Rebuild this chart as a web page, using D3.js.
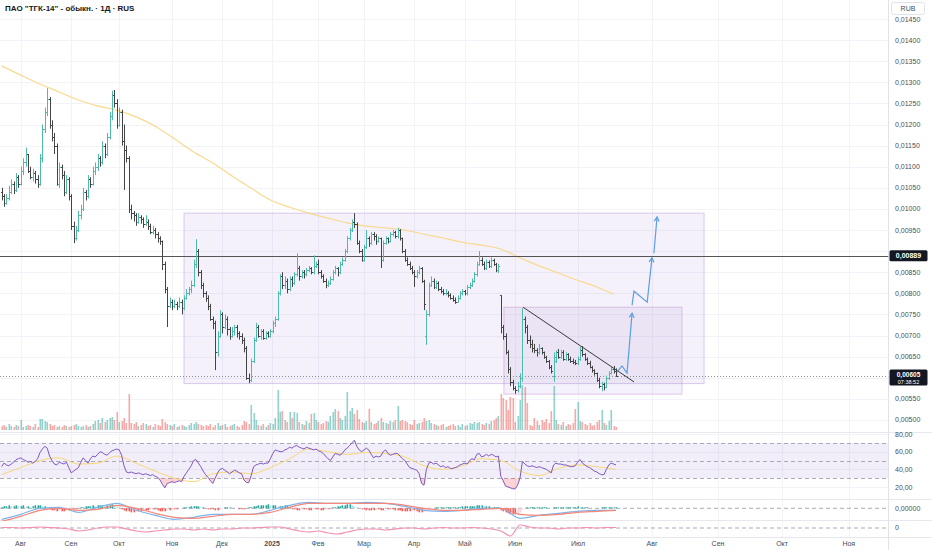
<!DOCTYPE html>
<html><head><meta charset="utf-8">
<script src="https://cdn.jsdelivr.net/npm/d3@7"></script>
<style>
body{margin:0;background:#fff}
svg{display:block}
text{font-family:"Liberation Sans",Arial,sans-serif}
</style>
</head><body>
<svg id="c" width="932" height="550"></svg>
<script>
// ---------- DATA ----------
const title = 'ПАО "ТГК-14" - обыкн. · 1Д · RUS';
const currency = 'RUB';
const monthLabels = ['Авг','Сен','Окт','Ноя','Дек','2025','Фев','Мар','Апр','Май','Июн','Июл','Авг','Сен','Окт','Ноя'];
const monthIdx = [7.9,28.9,48.9,71,91.8,112.7,131.8,151,171.8,193,213.9,240.2,271,298.5,325.2,353];
const priceTicks = [0.005,0.0055,0.006,0.0065,0.007,0.0075,0.008,0.0085,0.009,0.0095,0.01,0.0105,0.011,0.0115,0.012,0.0125,0.013,0.0135,0.014,0.0145];
const rsiTicks = [20,40,60,80];
const rsiLevels = [70,50,30];
const lastPrice = 0.00605;
const lastTime = '07:38:52';
const levelPrice = 0.00889;

const open = [1040e-5,1030e-5,1015e-5,1025e-5,1040e-5,1060e-5,1045e-5,1075e-5,1060e-5,1090e-5,
1110e-5,1130e-5,1090e-5,1075e-5,1085e-5,1070e-5,1060e-5,1120e-5,1190e-5,1230e-5,
1260e-5,1200e-5,1170e-5,1150e-5,1060e-5,1100e-5,1080e-5,1040e-5,1070e-5,1030e-5,
960e-5,930e-5,950e-5,985e-5,1000e-5,1040e-5,1030e-5,1070e-5,1060e-5,1090e-5,
1100e-5,1120e-5,1110e-5,1150e-5,1130e-5,1170e-5,1220e-5,1270e-5,1250e-5,1200e-5,
1230e-5,1160e-5,1140e-5,1120e-5,1000e-5,990e-5,985e-5,970e-5,980e-5,975e-5,
965e-5,970e-5,960e-5,945e-5,950e-5,940e-5,930e-5,925e-5,870e-5,810e-5,
770e-5,780e-5,770e-5,775e-5,770e-5,780e-5,765e-5,790e-5,800e-5,810e-5,
820e-5,870e-5,900e-5,850e-5,820e-5,800e-5,790e-5,770e-5,740e-5,730e-5,
660e-5,700e-5,750e-5,720e-5,740e-5,715e-5,700e-5,710e-5,720e-5,705e-5,
700e-5,690e-5,670e-5,600e-5,595e-5,640e-5,690e-5,720e-5,700e-5,710e-5,
695e-5,705e-5,700e-5,710e-5,730e-5,740e-5,800e-5,840e-5,820e-5,830e-5,
810e-5,835e-5,825e-5,845e-5,860e-5,840e-5,850e-5,845e-5,855e-5,860e-5,
850e-5,865e-5,870e-5,850e-5,840e-5,830e-5,820e-5,825e-5,835e-5,850e-5,
860e-5,850e-5,870e-5,880e-5,900e-5,930e-5,950e-5,970e-5,965e-5,920e-5,
900e-5,880e-5,910e-5,930e-5,920e-5,940e-5,935e-5,925e-5,930e-5,880e-5,
920e-5,930e-5,925e-5,940e-5,945e-5,935e-5,950e-5,930e-5,900e-5,880e-5,
870e-5,860e-5,850e-5,840e-5,850e-5,860e-5,830e-5,700e-5,750e-5,820e-5,
830e-5,815e-5,825e-5,810e-5,805e-5,800e-5,800e-5,795e-5,790e-5,785e-5,
780e-5,790e-5,800e-5,805e-5,800e-5,815e-5,820e-5,830e-5,845e-5,870e-5,
880e-5,870e-5,860e-5,875e-5,865e-5,880e-5,870e-5,855e-5,795e-5,720e-5,
700e-5,660e-5,620e-5,590e-5,575e-5,570e-5,580e-5,600e-5,740e-5,720e-5,
690e-5,680e-5,670e-5,665e-5,660e-5,670e-5,660e-5,650e-5,640e-5,625e-5,
605e-5,640e-5,660e-5,650e-5,660e-5,645e-5,655e-5,645e-5,640e-5,638e-5,
635e-5,645e-5,665e-5,655e-5,645e-5,635e-5,625e-5,618e-5,610e-5,595e-5,
580e-5,585e-5,578e-5,600e-5,612e-5,620e-5,615e-5];

const high = [1050e-5,1035e-5,1035e-5,1055e-5,1070e-5,1065e-5,1085e-5,1080e-5,1100e-5,1120e-5,
1145e-5,1130e-5,1100e-5,1095e-5,1090e-5,1080e-5,1130e-5,1200e-5,1240e-5,1286e-5,
1265e-5,1210e-5,1180e-5,1155e-5,1110e-5,1105e-5,1090e-5,1080e-5,1075e-5,1035e-5,
970e-5,960e-5,995e-5,1010e-5,1050e-5,1045e-5,1080e-5,1075e-5,1100e-5,1110e-5,
1130e-5,1125e-5,1160e-5,1155e-5,1180e-5,1230e-5,1280e-5,1282e-5,1260e-5,1240e-5,
1235e-5,1200e-5,1150e-5,1125e-5,1010e-5,995e-5,990e-5,990e-5,985e-5,980e-5,
985e-5,975e-5,965e-5,960e-5,955e-5,945e-5,935e-5,925e-5,875e-5,815e-5,
790e-5,785e-5,785e-5,780e-5,790e-5,785e-5,795e-5,810e-5,815e-5,830e-5,
880e-5,928e-5,905e-5,855e-5,825e-5,805e-5,795e-5,775e-5,745e-5,735e-5,
710e-5,760e-5,755e-5,750e-5,745e-5,720e-5,720e-5,725e-5,725e-5,710e-5,
705e-5,695e-5,675e-5,610e-5,645e-5,695e-5,730e-5,725e-5,715e-5,715e-5,
710e-5,710e-5,715e-5,735e-5,745e-5,805e-5,845e-5,850e-5,840e-5,835e-5,
840e-5,840e-5,850e-5,895e-5,865e-5,855e-5,855e-5,860e-5,865e-5,862e-5,
890e-5,875e-5,880e-5,855e-5,845e-5,835e-5,830e-5,840e-5,855e-5,865e-5,
862e-5,875e-5,885e-5,905e-5,935e-5,955e-5,975e-5,990e-5,968e-5,925e-5,
905e-5,915e-5,950e-5,935e-5,945e-5,945e-5,940e-5,935e-5,932e-5,925e-5,
935e-5,932e-5,945e-5,950e-5,948e-5,955e-5,952e-5,932e-5,905e-5,885e-5,
875e-5,865e-5,855e-5,855e-5,865e-5,862e-5,832e-5,760e-5,825e-5,840e-5,
835e-5,830e-5,828e-5,815e-5,810e-5,810e-5,805e-5,800e-5,795e-5,790e-5,
795e-5,805e-5,810e-5,808e-5,820e-5,825e-5,835e-5,850e-5,875e-5,900e-5,
885e-5,875e-5,880e-5,878e-5,885e-5,882e-5,872e-5,870e-5,795e-5,725e-5,
705e-5,665e-5,625e-5,595e-5,580e-5,590e-5,610e-5,765e-5,745e-5,725e-5,
700e-5,690e-5,680e-5,670e-5,680e-5,672e-5,662e-5,652e-5,642e-5,630e-5,
660e-5,665e-5,668e-5,666e-5,665e-5,660e-5,658e-5,650e-5,645e-5,642e-5,
650e-5,673e-5,675e-5,658e-5,648e-5,640e-5,628e-5,620e-5,612e-5,600e-5,
590e-5,588e-5,605e-5,615e-5,625e-5,628e-5,622e-5];

const low = [1020e-5,1005e-5,1010e-5,1020e-5,1035e-5,1035e-5,1040e-5,1050e-5,1055e-5,1080e-5,
1100e-5,1085e-5,1070e-5,1065e-5,1060e-5,1050e-5,1055e-5,1110e-5,1180e-5,1220e-5,
1190e-5,1160e-5,1130e-5,1055e-5,1050e-5,1070e-5,1030e-5,1035e-5,1020e-5,950e-5,
919e-5,925e-5,945e-5,975e-5,995e-5,1020e-5,1025e-5,1050e-5,1055e-5,1080e-5,
1090e-5,1100e-5,1105e-5,1120e-5,1125e-5,1165e-5,1210e-5,1240e-5,1190e-5,1195e-5,
1150e-5,1045e-5,1110e-5,990e-5,975e-5,970e-5,960e-5,965e-5,965e-5,955e-5,
960e-5,950e-5,940e-5,940e-5,930e-5,920e-5,915e-5,855e-5,800e-5,720e-5,
765e-5,760e-5,765e-5,760e-5,765e-5,750e-5,760e-5,785e-5,795e-5,800e-5,
815e-5,860e-5,840e-5,810e-5,790e-5,780e-5,760e-5,735e-5,715e-5,618e-5,
650e-5,695e-5,705e-5,715e-5,700e-5,690e-5,695e-5,700e-5,695e-5,690e-5,
680e-5,660e-5,595e-5,587e-5,590e-5,635e-5,685e-5,695e-5,690e-5,690e-5,
690e-5,695e-5,695e-5,705e-5,720e-5,735e-5,795e-5,810e-5,810e-5,800e-5,
805e-5,815e-5,820e-5,840e-5,830e-5,835e-5,835e-5,840e-5,850e-5,845e-5,
845e-5,860e-5,845e-5,835e-5,825e-5,812e-5,815e-5,820e-5,830e-5,845e-5,
840e-5,845e-5,865e-5,875e-5,895e-5,925e-5,945e-5,955e-5,915e-5,895e-5,
875e-5,875e-5,905e-5,910e-5,915e-5,925e-5,915e-5,920e-5,860e-5,875e-5,
915e-5,918e-5,920e-5,935e-5,930e-5,930e-5,925e-5,895e-5,875e-5,865e-5,
855e-5,845e-5,815e-5,835e-5,845e-5,825e-5,760e-5,678e-5,745e-5,815e-5,
810e-5,810e-5,805e-5,800e-5,795e-5,795e-5,790e-5,785e-5,780e-5,775e-5,
778e-5,785e-5,795e-5,795e-5,795e-5,810e-5,815e-5,825e-5,840e-5,865e-5,
865e-5,855e-5,855e-5,860e-5,860e-5,865e-5,850e-5,848e-5,705e-5,690e-5,
655e-5,610e-5,580e-5,570e-5,562e-5,565e-5,575e-5,590e-5,705e-5,680e-5,
670e-5,660e-5,658e-5,650e-5,655e-5,655e-5,645e-5,635e-5,620e-5,610e-5,
590e-5,635e-5,645e-5,645e-5,640e-5,640e-5,640e-5,635e-5,632e-5,630e-5,
630e-5,640e-5,650e-5,640e-5,630e-5,622e-5,612e-5,605e-5,590e-5,575e-5,
568e-5,570e-5,575e-5,595e-5,608e-5,610e-5,602e-5];

const close = [1030e-5,1015e-5,1025e-5,1040e-5,1060e-5,1045e-5,1075e-5,1060e-5,1090e-5,1110e-5,
1130e-5,1090e-5,1075e-5,1085e-5,1070e-5,1060e-5,1120e-5,1190e-5,1230e-5,1260e-5,
1200e-5,1170e-5,1150e-5,1060e-5,1100e-5,1080e-5,1040e-5,1070e-5,1030e-5,960e-5,
930e-5,950e-5,985e-5,1000e-5,1040e-5,1030e-5,1070e-5,1060e-5,1090e-5,1100e-5,
1120e-5,1110e-5,1150e-5,1130e-5,1170e-5,1220e-5,1270e-5,1250e-5,1200e-5,1230e-5,
1160e-5,1140e-5,1120e-5,1000e-5,990e-5,985e-5,970e-5,980e-5,975e-5,965e-5,
970e-5,960e-5,945e-5,950e-5,940e-5,930e-5,925e-5,870e-5,810e-5,770e-5,
780e-5,770e-5,775e-5,770e-5,780e-5,765e-5,790e-5,800e-5,810e-5,820e-5,
870e-5,900e-5,850e-5,820e-5,800e-5,790e-5,770e-5,740e-5,730e-5,660e-5,
700e-5,750e-5,720e-5,740e-5,715e-5,700e-5,710e-5,720e-5,705e-5,700e-5,
690e-5,670e-5,600e-5,595e-5,640e-5,690e-5,720e-5,700e-5,710e-5,695e-5,
705e-5,700e-5,710e-5,730e-5,740e-5,800e-5,840e-5,820e-5,830e-5,810e-5,
835e-5,825e-5,845e-5,860e-5,840e-5,850e-5,845e-5,855e-5,860e-5,850e-5,
865e-5,870e-5,850e-5,840e-5,830e-5,820e-5,825e-5,835e-5,850e-5,860e-5,
850e-5,870e-5,880e-5,900e-5,930e-5,950e-5,970e-5,965e-5,920e-5,900e-5,
880e-5,910e-5,930e-5,920e-5,940e-5,935e-5,925e-5,930e-5,880e-5,920e-5,
930e-5,925e-5,940e-5,945e-5,935e-5,950e-5,930e-5,900e-5,880e-5,870e-5,
860e-5,850e-5,840e-5,850e-5,860e-5,830e-5,775e-5,750e-5,820e-5,830e-5,
815e-5,825e-5,810e-5,805e-5,800e-5,800e-5,795e-5,790e-5,785e-5,780e-5,
790e-5,800e-5,805e-5,800e-5,815e-5,820e-5,830e-5,845e-5,870e-5,880e-5,
870e-5,860e-5,875e-5,865e-5,880e-5,870e-5,855e-5,865e-5,720e-5,700e-5,
660e-5,620e-5,590e-5,575e-5,570e-5,580e-5,600e-5,740e-5,720e-5,690e-5,
680e-5,670e-5,665e-5,660e-5,670e-5,660e-5,650e-5,640e-5,625e-5,615e-5,
650e-5,660e-5,650e-5,660e-5,645e-5,655e-5,645e-5,640e-5,638e-5,635e-5,
645e-5,665e-5,655e-5,645e-5,635e-5,625e-5,618e-5,610e-5,595e-5,580e-5,
585e-5,578e-5,600e-5,612e-5,620e-5,615e-5,605e-5];

// volume (millions of shares)
const volume = [4,5,3,6,4,3,5,4,10,3, 4,5,4,3,6,3, 11,11,9, 8,6,4,5,
3,4,3,5,4,3,4,5,6,4,3,4,5,3,4,6, 9,10,7,12,8,10, 12,13,10,18, 8,9,12,7,36,
7,6,8,4,5,7,6,4,5,3,6,5,4, 11, 8,6,5,4,6,3,4,5,4,3,5,7,6, 8,6,5,4,
5,4,6,3,5,7,4,5,6,3,4,5,6,4,3,5, 9,8,6,25,17,10, 5,4,6,3,5,7,6,
12,40,18,19,10,8,18,12,18,17, 8,6,5,9,7,16,17,10,8,6, 7,9,8,14,18,21,19,12,10,14,
38,19,22,16,20,11,8,7,9,21, 8,6,7,9,12,8,7,6,9,8, 10,24,9,10,9,8,6,5,10,6,
7,8,12,9,10,7,6,5, 4,5,6,3,4,5,6,4,5,3,6,4,5,7,6,8, 7,8,6,5,7,6,9,10,12,14,
36,32,30,20,33,32,8,14,30,45,43,27, 5,4,12,9,5,10,8,11,7,19,44,
10,6,5,8,4,6,5,7,21,28, 9,8,6,5,7,4,5,8,10,20,7,5,9,20,4,3];

// moving average of price, sampled every 8 bars
const maPrice = [1339e-5,1317e-5,1296e-5,1277e-5,1258e-5,1244e-5,1234e-5,1218e-5,1196e-5,1166e-5,1135e-5,1109e-5,1078e-5,1049e-5,1021e-5,1004e-5,990e-5,978e-5,967e-5,959e-5,955e-5,950e-5,940e-5,931e-5,921e-5,914e-5,905e-5,884e-5,865e-5,848e-5,831e-5,815e-5,798e-5];

const rsi = [43,47,45,44,46,48,51,52,53,51, 50,48,49,47,49,52,59,63,66,64,
55,50,46,45,48,47,46,48,42,36, 38,40,42,48,53,50,47,52,55,54,
57,60,59,57,56,59,61,62,63,62, 56,44,37,36,37,36,35,36,35,34,
35,34,33,34,32,31,28,23,19,24, 25,26,25,26,27,26,32,36,40,44,
50,51,47,43,38,34,31,27,24,30, 36,40,41,39,37,35,37,39,38,36,
35,28,25,25,33,43,45,46,47,46, 47,47,52,58,62,61,60,60,62,63,
65,64,66,67,65,64,63,65,64,63, 62,63,61,60,58,55,52,50,54,58,
57,56,58,62,64,67,70,73,66,62, 60,62,64,62,57,53,55,54,55,60,
62,58,56,57,58,58,55,52,50,46, 42,41,40,39,35,24,22,40,47,48,
46,47,45,43,44,42,43,41,41,42, 43,45,46,47,46,50,52,51,57,58,
54,55,57,55,57,56,54,55,32,27, 21,20,19,18,18,22,30,49,46,44,
43,44,43,42,43,42,41,40,38,36, 45,47,46,46,45,45,44,43,43,44,
48,51,47,45,43,42,40,38,37,35, 34,34,40,45,47,46,45];
// RSI moving average, sampled every 8 bars
const rsiMa = [34,42,50,53,46,47,55,47,38,30,26,35,37,35,42,52,63,60,57,59,58,54,44,40,44,52,50,38,33,41,45,43,40];

// MACD and signal, sampled every 8 bars
const macd = [-11e-5,-6e-5,0,1e-5,-4e-5,1e-5,5e-5,-2e-5,-7e-5,-11e-5,-9e-5,-6e-5,-6e-5,-6e-5,-2e-5,3e-5,6e-5,5e-5,5e-5,6e-5,5e-5,2e-5,-2e-5,-3e-5,-2e-5,0,0,-10e-5,-7e-5,-5e-5,-3e-5,-2e-5,-2e-5];
const signal = [-13e-5,-8e-5,-2e-5,0,-2e-5,-1e-5,3e-5,0,-5e-5,-9e-5,-10e-5,-8e-5,-6e-5,-6e-5,-4e-5,1e-5,5e-5,5e-5,5e-5,5e-5,5e-5,3e-5,0,-2e-5,-2e-5,-1e-5,0,-6e-5,-7e-5,-6e-5,-4e-5,-3e-5,-2e-5];
const macdHist = [1e-5,2e-5,2e-5,3e-5,2e-5,2e-5,3e-5,2e-5,2e-5,3e-5,2e-5,2e-5,1e-5,2e-5,3e-5,3e-5,3e-5,2e-5,2e-5,1e-5,
-1e-5,-2e-5,-2e-5,-3e-5,-2e-5,-3e-5,-3e-5,-2e-5,-2e-5,-1e-5,-1e-5,-1e-5,0,
1e-5,1e-5,2e-5,2e-5,2e-5,3e-5,2e-5,3e-5,3e-5,3e-5,2e-5,3e-5,3e-5,4e-5,3e-5,2e-5,1e-5,
-1e-5,-2e-5,-3e-5,-3e-5,-4e-5,-4e-5,-3e-5,-3e-5,-3e-5,-2e-5,-2e-5,-2e-5,-1e-5,-1e-5,-1e-5,-2e-5,-3e-5,-3e-5,-3e-5,-2e-5,-2e-5,-1e-5,-1e-5,-1e-5,0,0,1e-5,1e-5,1e-5,2e-5,2e-5,
2e-5,2e-5,1e-5,1e-5,0,-1e-5,-1e-5,-1e-5,-2e-5,-2e-5,-1e-5,0,1e-5,1e-5,1e-5,0,0,0,-1e-5,-1e-5,-1e-5,0,1e-5,1e-5,2e-5,2e-5,3e-5,3e-5,3e-5,3e-5,4e-5,3e-5,3e-5,3e-5,2e-5,2e-5,2e-5,3e-5,3e-5,2e-5,
-1e-5,-1e-5,-2e-5,-2e-5,-1e-5,-1e-5,-1e-5,-2e-5,-2e-5,-1e-5,-1e-5,-1e-5,-2e-5,-2e-5,-1e-5,-1e-5,0,
1e-5,1e-5,2e-5,2e-5,3e-5,3e-5,4e-5,4e-5,3e-5,2e-5,1e-5,0,
-1e-5,-1e-5,-2e-5,-2e-5,-2e-5,-2e-5,-1e-5,-1e-5,-2e-5,-2e-5,-1e-5,-1e-5,-1e-5,-1e-5,-2e-5,-2e-5,-2e-5,-3e-5,-3e-5,-3e-5,-3e-5,-2e-5,-2e-5,-3e-5,-4e-5,-4e-5,-3e-5,
-2e-5,-1e-5,0,0,1e-5,1e-5,1e-5,1e-5,1e-5,1e-5,1e-5,1e-5,1e-5,1e-5,1e-5,2e-5,2e-5,2e-5,2e-5,2e-5,2e-5,3e-5,3e-5,3e-5,2e-5,2e-5,2e-5,1e-5,1e-5,1e-5,1e-5,
-2e-5,-3e-5,-4e-5,-5e-5,-6e-5,-6e-5,-6e-5,-5e-5,-4e-5,-1e-5,
0,1e-5,1e-5,1e-5,1e-5,1e-5,1e-5,1e-5,1e-5,1e-5,0,0,1e-5,1e-5,1e-5,1e-5,1e-5,1e-5,1e-5,1e-5,1e-5,1e-5,2e-5,1e-5,1e-5,1e-5,1e-5,0,0,0,0,0,1e-5,1e-5,1e-5,1e-5,1e-5,1e-5,1e-5];

// lower oscillator, sampled every 4 bars
const osc = [0.5,0.5,0,0.5,1,0.5,0,-1,-3,-2, 0,1,1,-1,-3,-4,-3,-2,-1,-1,
-2,-1,-2,-1,-1,0,0,0.5,1,1, -1,-3,-4,-3,-5,-6,-4,-2,-1,-1,
-2,-1,0,0,-1,0,0.5,0,0,0.5, 0,-1,-3,-8,3,1,0,0,-1,0, 0,0.5,0,0.5,0.5];

// drawings: [startBar, endBar, topPrice, bottomPrice]
const bigBox = [76, 292.7, 0.0099, 0.00586];
const smallBox = [209.3, 283.5, 0.00767, 0.00561];
const trendLine = [[217.3, 0.00767], [263.5, 0.0059]];
const arrowPaths = [
  [[256.4,0.00613],[258.5,0.00628],[260.6,0.00611],[262.7,0.00753]],
  [[262.7,0.00772],[263.5,0.00805],[269,0.00779],[271,0.00884]],
  [[271.8,0.00895],[273.1,0.00981]]
];

// ---------- CHART ----------
const svg = d3.select('#c');
const W = 932, AX = 888.5;
const N = close.length;
const x = d3.scaleLinear().domain([0, N - 1]).range([1.6, 616]);
const y = d3.scaleLinear().domain([0.005, 0.0145]).range([419.9, 19]);
const yVol = d3.scaleLinear().domain([0, 45]).range([430, 385]);
const yRsi = d3.scaleLinear().domain([20, 80]).range([487, 434]);
const yMacd = d3.scaleLinear().domain([-1e-4, 1e-4]).range([518.3, 498.3]);
const yOsc = d3.scaleLinear().domain([-10, 10]).range([538, 518]);
const px = i => Math.round(x(i)) + 0.5;
const fmtP = v => d3.format('.5f')(v).replace('.', ',');
const fmtR = v => d3.format('.2f')(v).replace('.', ',');

const defs = svg.append('defs');
function clip(id, yy, h) {
  defs.append('clipPath').attr('id', id).append('rect').attr('x', 0).attr('y', yy).attr('width', AX).attr('height', h);
}
clip('cMain', 0, 432); clip('cRsi', 433, 67); clip('cMacd', 500, 21); clip('cOsc', 521, 16);

svg.append('rect').attr('width', W).attr('height', 550).attr('fill', '#fff');

// grid
const grid = svg.append('g');
grid.selectAll('.hg').data(priceTicks).join('line')
  .attr('x1', 0).attr('x2', AX).attr('y1', d => Math.round(y(d)) + 0.5).attr('y2', d => Math.round(y(d)) + 0.5)
  .attr('stroke', '#f2f3f6');
grid.selectAll('.rg').data(rsiTicks).join('line')
  .attr('x1', 0).attr('x2', AX).attr('y1', d => Math.round(yRsi(d)) + 0.5).attr('y2', d => Math.round(yRsi(d)) + 0.5)
  .attr('stroke', '#f2f3f6');
grid.selectAll('.vg').data(monthIdx).join('line')
  .attr('x1', d => px(d)).attr('x2', d => px(d)).attr('y1', 0).attr('y2', 537)
  .attr('stroke', '#f2f3f6');

// pane separators
[432.5, 499.5, 520.5, 537.5].forEach(v => {
  svg.append('line').attr('x1', 0).attr('x2', W).attr('y1', v).attr('y2', v).attr('stroke', '#e6e8ee');
});
svg.append('line').attr('x1', AX).attr('x2', AX).attr('y1', 0).attr('y2', 550).attr('stroke', '#e0e3eb');

const main = svg.append('g').attr('clip-path', 'url(#cMain)');

// boxes
function box(b, fill, stroke) {
  main.append('rect')
    .attr('x', x(b[0])).attr('y', y(b[2]))
    .attr('width', x(b[1]) - x(b[0])).attr('height', y(b[3]) - y(b[2]))
    .attr('fill', fill).attr('stroke', stroke).attr('stroke-width', 1);
}
box(bigBox, 'rgba(149,117,205,0.1)', 'rgba(149,117,205,0.35)');
box(smallBox, 'rgba(149,117,205,0.1)', 'rgba(186,104,200,0.35)');

// volume
main.selectAll('.vol').data(volume).join('rect')
  .attr('x', (d, i) => Math.round(x(i)) - 0.5).attr('width', 1.6)
  .attr('y', d => yVol(d)).attr('height', d => yVol(0) - yVol(d))
  .attr('fill', (d, i) => close[i] >= open[i] ? 'rgba(38,166,154,0.5)' : 'rgba(239,83,80,0.5)');

// MA line
main.append('path').datum(maPrice)
  .attr('d', d3.line().x((d, k) => x(Math.min(k * 8, N - 2))).y(d => y(d)).curve(d3.curveMonotoneX))
  .attr('fill', 'none').attr('stroke', '#f9d98e').attr('stroke-width', 1.2);

// horizontal level line
main.append('line').attr('x1', 0).attr('x2', AX)
  .attr('y1', Math.round(y(levelPrice)) + 0.5).attr('y2', Math.round(y(levelPrice)) + 0.5)
  .attr('stroke', '#555').attr('stroke-width', 1);
// current price dotted line
main.append('line').attr('x1', 0).attr('x2', AX)
  .attr('y1', Math.round(y(lastPrice)) + 0.5).attr('y2', Math.round(y(lastPrice)) + 0.5)
  .attr('stroke', '#8a8d96').attr('stroke-dasharray', '1,2');

// OHLC bars
const bars = main.append('g');
close.forEach((c, i) => {
  const col = c >= open[i] ? '#4fb9ab' : '#444';
  const xx = px(i);
  bars.append('line').attr('x1', xx).attr('x2', xx).attr('y1', y(high[i])).attr('y2', y(low[i])).attr('stroke', col);
  bars.append('line').attr('x1', xx - 1.5).attr('x2', xx).attr('y1', Math.round(y(open[i])) + 0.5).attr('y2', Math.round(y(open[i])) + 0.5).attr('stroke', col);
  bars.append('line').attr('x1', xx).attr('x2', xx + 1.5).attr('y1', Math.round(y(c)) + 0.5).attr('y2', Math.round(y(c)) + 0.5).attr('stroke', col);
});

// trend line
main.append('line')
  .attr('x1', x(trendLine[0][0])).attr('y1', y(trendLine[0][1]))
  .attr('x2', x(trendLine[1][0])).attr('y2', y(trendLine[1][1]))
  .attr('stroke', '#3a3a3a').attr('stroke-width', 1);

// arrows
const lineXY = d3.line().x(d => x(d[0])).y(d => y(d[1]));
arrowPaths.forEach(p => {
  main.append('path').attr('d', lineXY(p)).attr('fill', 'none').attr('stroke', '#5b9ee6').attr('stroke-width', 1.2);
  const a = p[p.length - 2], b = p[p.length - 1];
  const ax = x(a[0]), ay = y(a[1]), bx = x(b[0]), by = y(b[1]);
  const ang = Math.atan2(by - ay, bx - ax), L = 5, s = 0.5;
  const p1 = [bx - L * Math.cos(ang - s), by - L * Math.sin(ang - s)];
  const p2 = [bx - L * Math.cos(ang + s), by - L * Math.sin(ang + s)];
  main.append('path').attr('d', `M${p1}L${bx},${by}L${p2}`).attr('fill', 'none').attr('stroke', '#5b9ee6').attr('stroke-width', 1.2);
});

// ---------- RSI ----------
const rg = svg.append('g').attr('clip-path', 'url(#cRsi)');
rg.append('rect').attr('x', 0).attr('width', AX).attr('y', yRsi(70)).attr('height', yRsi(30) - yRsi(70))
  .attr('fill', 'rgba(126,87,194,0.1)');
rsiLevels.forEach(l => {
  rg.append('line').attr('x1', 0).attr('x2', AX).attr('y1', Math.round(yRsi(l)) + 0.5).attr('y2', Math.round(yRsi(l)) + 0.5)
    .attr('stroke', '#9598a1').attr('stroke-dasharray', '4,3').attr('stroke-width', 0.8);
});
rg.append('path').datum(rsi)
  .attr('d', d3.area().x((d, i) => x(i)).y0(yRsi(30)).y1(d => yRsi(Math.min(d, 30))))
  .attr('fill', 'rgba(242,54,69,0.22)');
rg.append('path').datum(rsi)
  .attr('d', d3.area().x((d, i) => x(i)).y0(yRsi(70)).y1(d => yRsi(Math.max(d, 70))))
  .attr('fill', 'rgba(8,153,129,0.2)');
rg.append('path').datum(rsiMa)
  .attr('d', d3.line().x((d, k) => x(k * 8)).y(d => yRsi(d)).curve(d3.curveMonotoneX))
  .attr('fill', 'none').attr('stroke', '#f7d774').attr('stroke-width', 1);
rg.append('path').datum(rsi)
  .attr('d', d3.line().x((d, i) => x(i)).y(d => yRsi(d)))
  .attr('fill', 'none').attr('stroke', '#7e57c2').attr('stroke-width', 1);

// ---------- MACD ----------
const mg = svg.append('g').attr('clip-path', 'url(#cMacd)');
mg.append('line').attr('x1', 0).attr('x2', AX).attr('y1', yMacd(0)).attr('y2', yMacd(0))
  .attr('stroke', '#9598a1').attr('stroke-dasharray', '4,3').attr('stroke-width', 0.8);
mg.selectAll('.h').data(macdHist).join('rect')
  .attr('x', (d, i) => Math.round(x(i)) - 0.5).attr('width', 1.6)
  .attr('y', d => Math.min(yMacd(d), yMacd(0))).attr('height', d => Math.abs(yMacd(d) - yMacd(0)))
  .attr('fill', (d, i) => {
    const prev = i > 0 ? macdHist[i - 1] : d;
    if (d >= 0) return d >= prev ? '#26a69a' : '#b2dfdb';
    return d <= prev ? '#ff5252' : '#ffcdd2';
  });
mg.append('path').datum(macd)
  .attr('d', d3.line().x((d, k) => x(k * 8)).y(d => yMacd(d)).curve(d3.curveMonotoneX))
  .attr('fill', 'none').attr('stroke', '#7cb5ec').attr('stroke-width', 1.2);
mg.append('path').datum(signal)
  .attr('d', d3.line().x((d, k) => x(k * 8)).y(d => yMacd(d)).curve(d3.curveMonotoneX))
  .attr('fill', 'none').attr('stroke', '#f4877a').attr('stroke-width', 1.2);

// ---------- lower oscillator ----------
const og = svg.append('g').attr('clip-path', 'url(#cOsc)');
og.append('line').attr('x1', 0).attr('x2', AX).attr('y1', yOsc(0)).attr('y2', yOsc(0))
  .attr('stroke', '#9598a1').attr('stroke-dasharray', '4,3').attr('stroke-width', 0.8);
og.append('path').datum(osc)
  .attr('d', d3.line().x((d, k) => x(k * 4)).y(d => yOsc(d)).curve(d3.curveMonotoneX))
  .attr('fill', 'none').attr('stroke', '#f48fb1').attr('stroke-width', 1.2);

// ---------- axes text ----------
const markerYs = [y(levelPrice), y(lastPrice)];
const ax = svg.append('g').attr('font-size', 7).attr('fill', '#4a4e57');
ax.selectAll('.pt').data(priceTicks.filter(d => markerYs.every(m => Math.abs(y(d) - m) > 8))).join('text')
  .attr('x', 895).attr('y', d => y(d) + 2.5).text(fmtP);
ax.selectAll('.rt').data(rsiTicks).join('text')
  .attr('x', 895).attr('y', d => yRsi(d) + 2.5).text(fmtR);
ax.append('text').attr('x', 895).attr('y', yMacd(0) + 2.5).text(fmtP(0));
ax.append('text').attr('x', 895).attr('y', yOsc(0) + 2).text('0');
ax.selectAll('.mt').data(monthIdx).join('text')
  .attr('x', d => x(d)).attr('y', 546).attr('text-anchor', 'middle')
  .attr('font-weight', (d, i) => monthLabels[i] === '2025' ? 'bold' : null)
  .text((d, i) => monthLabels[i]);

// price markers
svg.append('rect').attr('x', 889.5).attr('y', y(levelPrice) - 5.5).attr('width', 38).attr('height', 11).attr('rx', 1.5).attr('fill', '#131722');
svg.append('text').attr('x', 908.5).attr('y', y(levelPrice) + 2.5).attr('text-anchor', 'middle')
  .attr('font-size', 7).attr('font-weight', 'bold').attr('fill', '#fff').text(fmtP(levelPrice));
svg.append('rect').attr('x', 889.5).attr('y', y(lastPrice) - 6).attr('width', 38).attr('height', 16).attr('rx', 1.5).attr('fill', '#131722');
svg.append('text').attr('x', 908.5).attr('y', y(lastPrice) + 1).attr('text-anchor', 'middle')
  .attr('font-size', 6.5).attr('font-weight', 'bold').attr('fill', '#fff').text(fmtP(lastPrice));
svg.append('text').attr('x', 908.5).attr('y', y(lastPrice) + 8.5).attr('text-anchor', 'middle')
  .attr('font-size', 5.5).attr('fill', '#fff').text(lastTime);

// currency box
svg.append('rect').attr('x', 891.5).attr('y', 2.5).attr('width', 33).attr('height', 12).attr('rx', 2)
  .attr('fill', '#fff').attr('stroke', '#e0e3eb');
svg.append('text').attr('x', 908).attr('y', 11).attr('text-anchor', 'middle').attr('font-size', 7).attr('fill', '#4a4e57').text(currency);

// title
svg.append('text').attr('x', 5).attr('y', 11).attr('font-size', 8).attr('font-weight', 'bold').attr('fill', '#131722').text(title);
</script>
</body></html>
